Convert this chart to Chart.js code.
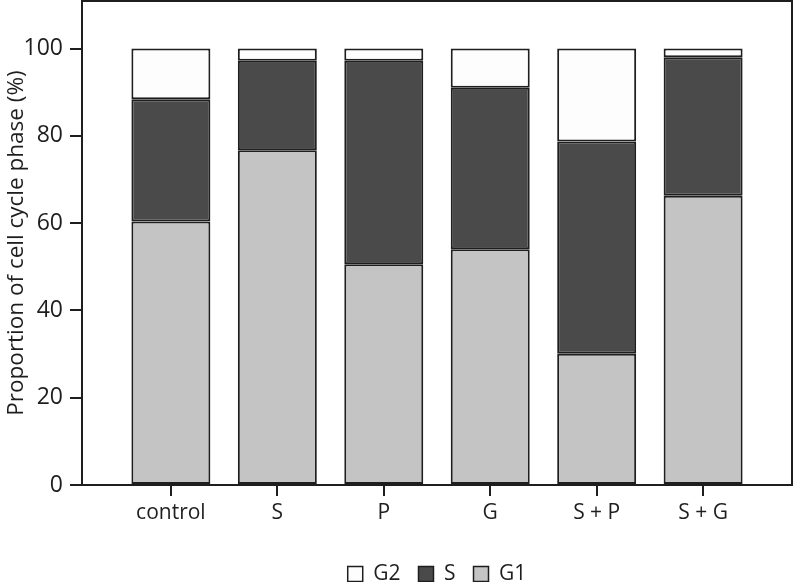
<!DOCTYPE html>
<html>
<head>
<meta charset="utf-8">
<script src="https://cdn.jsdelivr.net/npm/chart.js@4/dist/chart.umd.min.js"></script>
<style>
  html, body { margin: 0; padding: 0; background: #fff; }
  #wrap { width: 794px; height: 582px; }
</style>
</head>
<body>
<div id="wrap"><canvas id="myCanvas" width="794" height="582"></canvas></div>
<script>
const categories = ["control", "S", "P", "G", "S + P", "S + G"];
const g1Values = [60.4, 76.7, 50.6, 54.0, 30.1, 66.3];
const sValues = [28.0, 20.5, 46.6, 37.0, 48.6, 31.7];
const g2Values = [11.6, 2.8, 2.8, 9.0, 21.3, 2.0];
const yTicks = [0, 20, 40, 60, 80, 100];

const ink = "#1e1e1e";
const family = "'Open Sans', 'Noto Sans', sans-serif";

function pts(values) {
  return values.map((v, i) => ({ x: i, y: v }));
}

// top and right sides of the plot box, plus the x tick marks
const frame = {
  id: "frame",
  afterDraw(chart) {
    const a = chart.chartArea;
    const ctx = chart.ctx;
    const x = chart.scales.x;
    ctx.save();
    ctx.strokeStyle = ink;
    ctx.lineWidth = 2;
    ctx.beginPath();
    ctx.moveTo(a.left, a.top);
    ctx.lineTo(a.right, a.top);
    ctx.lineTo(a.right, a.bottom);
    categories.forEach((c, i) => {
      const px = Math.round(x.getPixelForValue(i));
      ctx.moveTo(px, a.bottom);
      ctx.lineTo(px, a.bottom + 11);
    });
    ctx.stroke();
    ctx.restore();
  }
};

const bar = { barPercentage: 0.742, categoryPercentage: 1, borderWidth: 2, borderColor: ink, borderSkipped: false };

new Chart(document.getElementById("myCanvas"), {
  type: "bar",
  data: {
    datasets: [
      Object.assign({ label: "G1", data: pts(g1Values), backgroundColor: "#c4c4c4" }, bar),
      Object.assign({ label: "S", data: pts(sValues), backgroundColor: "#4a4a4a" }, bar),
      Object.assign({ label: "G2", data: pts(g2Values), backgroundColor: "#fdfdfd" }, bar),
    ],
  },
  plugins: [frame],
  options: {
    responsive: false,
    animation: false,
    layout: { padding: { top: 1, right: 2, left: 0, bottom: -12.5 } },
    plugins: {
      tooltip: { enabled: false },
      legend: {
        position: "bottom",
        fullSize: false,
        reverse: true,
        labels: {
          color: ink,
          font: { family: family, size: 21 },
          boxWidth: 15,
          boxHeight: 15,
          padding: 18,
          generateLabels(chart) {
            return chart.data.datasets.map((ds, i) => ({
              text: ds.label,
              fillStyle: ds.backgroundColor,
              strokeStyle: ink,
              lineWidth: 1.5,
              fontColor: ink,
              datasetIndex: i,
            }));
          },
        },
      },
    },
    scales: {
      x: {
        type: "linear",
        stacked: true,
        offset: false,
        min: -0.835,
        max: 5.835,
        afterBuildTicks(scale) {
          scale.ticks = categories.map((c, i) => ({ value: i }));
        },
        afterFit(scale) {
          scale.height = 60.5;
          scale.paddingLeft = 0;
          scale.paddingRight = 0;
        },
        ticks: {
          color: ink,
          font: { family: family, size: 21 },
          padding: 5,
          maxRotation: 0,
          callback: (v) => categories[v],
        },
        grid: { offset: false, drawOnChartArea: false, drawTicks: true, tickLength: 10, color: ink, lineWidth: 2 },
        border: { display: true, color: ink, width: 2 },
      },
      y: {
        stacked: true,
        min: 0,
        max: 110.9,
        afterBuildTicks(scale) {
          scale.ticks = yTicks.map((v) => ({ value: v }));
        },
        afterFit(scale) {
          scale.width = 82;
          scale.paddingTop = 0;
          scale.paddingBottom = 0;
        },
        ticks: { color: ink, font: { family: family, size: 23 }, padding: 7 },
        grid: { drawOnChartArea: false, drawTicks: true, tickLength: 12, color: ink, lineWidth: 2 },
        border: { display: true, color: ink, width: 2 },
        title: {
          display: true,
          text: "Proportion of cell cycle phase (%)",
          color: ink,
          font: { family: family, size: 22.5 },
          padding: { top: 3, bottom: 0 },
        },
      },
    },
  },
});
</script>
</body>
</html>
